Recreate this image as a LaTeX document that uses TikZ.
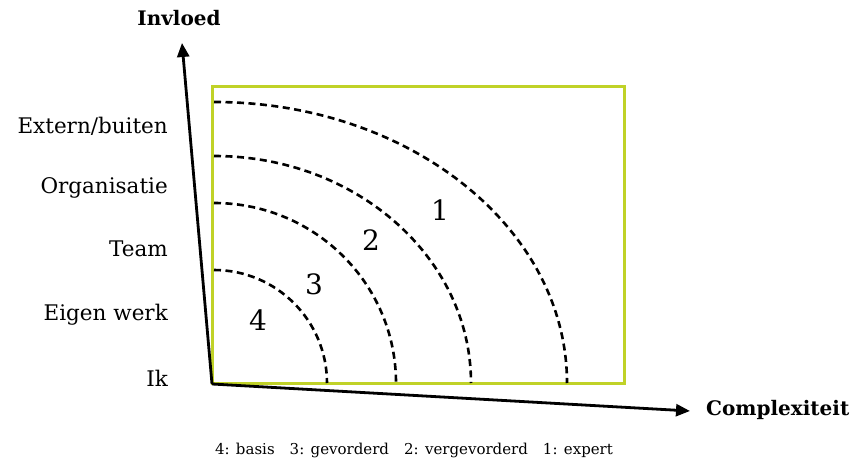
\documentclass[tikz,border=0pt]{standalone}
\usepackage{fontspec}
\setmainfont{DejaVu Serif}
\usetikzlibrary{arrows.meta,positioning}
\definecolor{limegreen}{RGB}{192,210,40}

\begin{document}
\begin{tikzpicture}[
  x=1pt, y=1pt,
  axis/.style={-{Triangle[length=14pt,width=12pt]}, line width=2.8pt, black},
  zone/.style={draw=limegreen, line width=3pt},
  ring/.style={dash pattern=on 7pt off 4.5pt, line width=2.6pt},
  lvl/.style={font=\fontsize{21.5}{25}\selectfont, anchor=east, inner sep=0pt},
  axlabel/.style={font=\fontsize{20}{24}\selectfont\bfseries, inner sep=0pt},
  num/.style={font=\fontsize{28}{32}\selectfont, inner sep=0pt}
]
\useasboundingbox (0,0) rectangle (856,-462);

% Green frame
\draw[zone] (212,-87) rectangle (624,-383);

% Axes
\coordinate (o) at (212,-384);
\coordinate (ytip) at (182,-43);
\coordinate (xtip) at (690,-411);
\draw[axis] (o) -- (ytip);
\draw[axis] (o) -- (xtip);
\node[axlabel] (inv) at (179,-18) {Invloed};
\node[axlabel, anchor=west] (cpx) at (706,-410) {Complexiteit};

% Levels
\node[lvl] (l5) at (168,-126) {Extern/buiten};
\node[lvl] (l4) at (168,-188) {Organisatie};
\node[lvl] (l3) at (168,-249) {Team};
\node[lvl] (l2) at (168,-315) {Eigen werk};
\node[lvl] (l1) at (168,-378) {Ik};

% Dashed zones
\draw[ring] (214,-102) arc[start angle=90, end angle=0, x radius=353, y radius=281];
\draw[ring] (214,-156) arc[start angle=90, end angle=0, x radius=257, y radius=227];
\draw[ring] (214,-203) arc[start angle=90, end angle=0, x radius=182, y radius=180];
\draw[ring] (214,-270) arc[start angle=90, end angle=0, x radius=113, y radius=113];

\node[num] (n1) at (440,-210) {1};
\node[num] (n2) at (371,-240) {2};
\node[num] (n3) at (314,-284) {3};
\node[num] (n4) at (258,-320) {4};

% Legend
\node[font=\fontsize{15}{18}\selectfont, inner sep=0pt] (key) at (414,-450)
  {4: basis\quad 3: gevorderd\quad 2: vergevorderd\quad 1: expert};

\end{tikzpicture}
\end{document}
